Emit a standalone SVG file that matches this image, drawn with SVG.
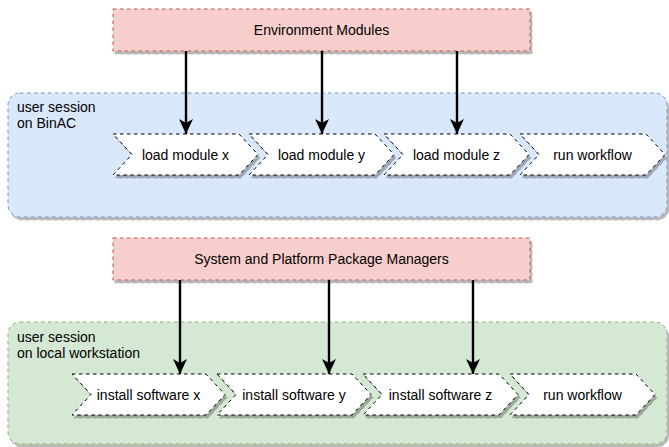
<svg xmlns="http://www.w3.org/2000/svg" width="669" height="447" viewBox="0 0 669 447">
<defs>
<filter id="sh" x="-10%" y="-10%" width="130%" height="140%">
<feDropShadow dx="2" dy="3" stdDeviation="0.6" flood-color="#000" flood-opacity="0.28"/>
</filter>
<marker id="ah" markerUnits="userSpaceOnUse" markerWidth="16" markerHeight="16" refX="15" refY="8" orient="auto" viewBox="0 0 16 16">
<path d="M15 8 L0 1 L4 8 L0 15 Z" fill="#000"/>
</marker>
</defs>
<style>
text{font-family:"Liberation Sans",Helvetica,Arial,sans-serif;font-size:14px;fill:#000}
.c{text-anchor:middle}
.pink{fill:#f8cecc;stroke:#b85450;stroke-width:1;stroke-dasharray:3.5 3.5}
.blue{fill:#dae8fc;stroke:#6c8ebf;stroke-width:1;stroke-dasharray:3.5 3.5}
.green{fill:#d5e8d4;stroke:#82b366;stroke-width:1;stroke-dasharray:3.5 3.5}
.step{fill:#fff;stroke:#000;stroke-width:1;stroke-dasharray:3.5 3.5}
.edge{fill:none;stroke:#000;stroke-width:2.4;marker-end:url(#ah)}
</style>
<g id="bin-session">
<rect class="blue" x="8" y="93" width="659" height="124" rx="12" filter="url(#sh)"/>
<text x="17" y="112">user session</text>
<text x="17" y="128">on BinAC</text>
</g>
<g id="local-session">
<rect class="green" x="8" y="322" width="659" height="122" rx="12" filter="url(#sh)"/>
<text x="17" y="342">user session</text>
<text x="17" y="358">on local workstation</text>
</g>
<g id="env-modules">
<rect class="pink" x="113" y="9" width="417" height="42" filter="url(#sh)"/>
<text class="c" x="321.5" y="35">Environment Modules</text>
</g>
<g id="pkg-managers">
<rect class="pink" x="113" y="238" width="417" height="42" filter="url(#sh)"/>
<text class="c" x="321.5" y="264">System and Platform Package Managers</text>
</g>
<g id="load-x">
<polygon class="step" filter="url(#sh)" points="113,134 239,134 258,154.5 239,175 113,175 132,154.5"/>
<text class="c" x="185.5" y="159.5">load module x</text>
</g>
<g id="load-y">
<polygon class="step" filter="url(#sh)" points="249,134 375,134 394,154.5 375,175 249,175 268,154.5"/>
<text class="c" x="321.5" y="159.5">load module y</text>
</g>
<g id="load-z">
<polygon class="step" filter="url(#sh)" points="384,134 510,134 529,154.5 510,175 384,175 403,154.5"/>
<text class="c" x="456.5" y="159.5">load module z</text>
</g>
<g id="run-bin">
<polygon class="step" filter="url(#sh)" points="520,134 646,134 665,154.5 646,175 520,175 539,154.5"/>
<text class="c" x="592.5" y="159.5">run workflow</text>
</g>
<g id="install-x">
<polygon class="step" filter="url(#sh)" points="72,374 206,374 225,394.5 206,415 72,415 91,394.5"/>
<text class="c" x="148.5" y="399.5">install software x</text>
</g>
<g id="install-y">
<polygon class="step" filter="url(#sh)" points="217,374 352,374 371,394.5 352,415 217,415 236,394.5"/>
<text class="c" x="294" y="399.5">install software y</text>
</g>
<g id="install-z">
<polygon class="step" filter="url(#sh)" points="363,374 499,374 518,394.5 499,415 363,415 382,394.5"/>
<text class="c" x="440.5" y="399.5">install software z</text>
</g>
<g id="run-local">
<polygon class="step" filter="url(#sh)" points="510,374 636,374 655,394.5 636,415 510,415 529,394.5"/>
<text class="c" x="582.5" y="399.5">run workflow</text>
</g>
<g id="connectors">
<path class="edge" d="M186 51 V134"/>
<path class="edge" d="M322 51 V134"/>
<path class="edge" d="M457 51 V134"/>
<path class="edge" d="M180 280 V374"/>
<path class="edge" d="M329 280 V374"/>
<path class="edge" d="M473 280 V374"/>
</g>
</svg>
